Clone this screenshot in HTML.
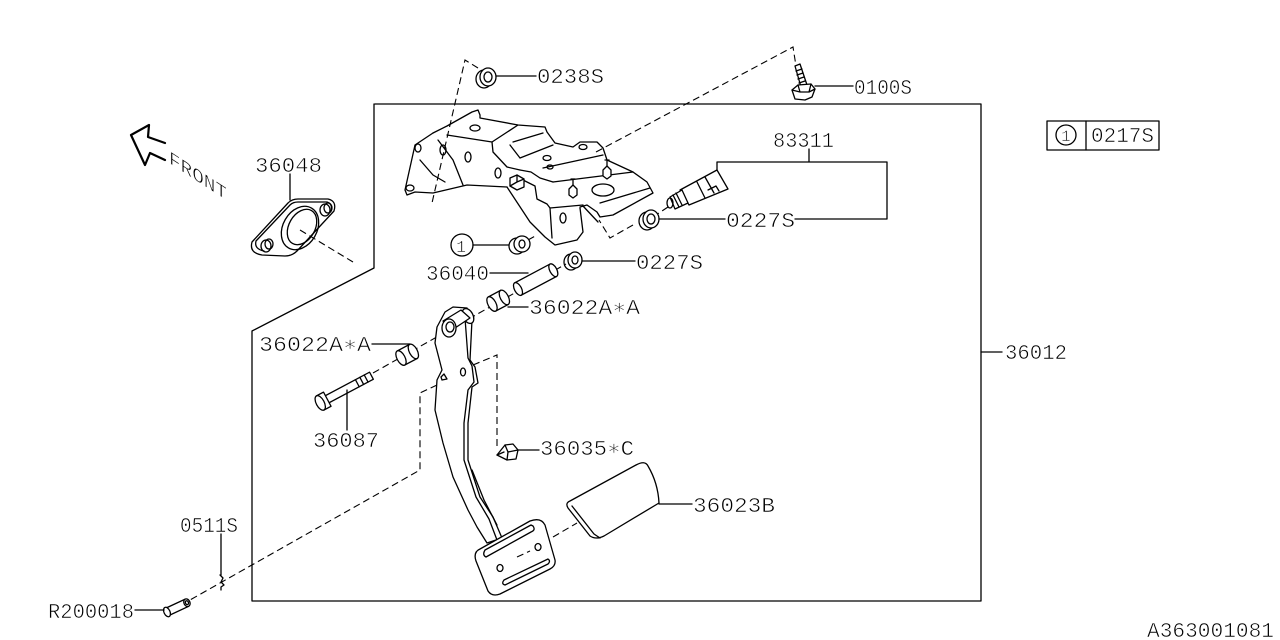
<!DOCTYPE html>
<html><head><meta charset="utf-8"><style>
html,body{margin:0;padding:0;background:#fff;}
svg{display:block;}
text{font-family:"Liberation Mono","DejaVu Sans Mono",monospace;font-size:21px;fill:#000;stroke:#fff;stroke-width:0.6px;}
.s{fill:none;stroke:#000;stroke-width:1.3;stroke-linejoin:round;stroke-linecap:round;}
.w{fill:#fff;stroke:#000;stroke-width:1.3;stroke-linejoin:round;}
.d{fill:none;stroke:#000;stroke-width:1.1;stroke-dasharray:7,4;}
</style></head><body>
<svg width="1280" height="640" viewBox="0 0 1280 640" xmlns="http://www.w3.org/2000/svg">
<!-- main outline -->
<path class="s" d="M375,104 L981,104 L981,601 L252,601 L252,331 L374,268 L374,104"/>
<line class="s" x1="981" y1="352" x2="1002" y2="352"/>
<text x="1005" y="359" textLength="62" lengthAdjust="spacingAndGlyphs">36012</text>

<!-- legend box -->
<rect class="s" x="1047" y="121" width="112" height="29"/>
<line class="s" x1="1086" y1="121" x2="1086" y2="150"/>
<circle class="s" cx="1066" cy="135" r="10"/>
<text x="1061" y="141" style="font-size:16px">1</text>
<text x="1091" y="142" textLength="63" lengthAdjust="spacingAndGlyphs">0217S</text>

<text x="1147" y="637" textLength="127" lengthAdjust="spacingAndGlyphs">A363001081</text>

<!-- FRONT arrow -->
<polyline class="s" style="stroke-width:2.2" points="165,143 148,137 149,125 131,135 145,165 150,153 165,160"/>
<text transform="translate(169,163) skewY(33)" textLength="58" lengthAdjust="spacingAndGlyphs" style="font-size:19px">FRONT</text>

<!-- gasket 36048 -->
<text x="255" y="172" textLength="67" lengthAdjust="spacingAndGlyphs">36048</text>
<line class="s" x1="290" y1="174" x2="290" y2="200"/>
<path class="s" d="M262,255 Q249,253 252,242 L288,203 Q292,199 298,199 L328,199 Q337,201 334,211 L297,251 Q292,256 285,256 Z"/>
<path class="s" d="M264,251 Q254,249 256,241 L290,205 Q293,202 298,202 L327,202 Q333,204 331,211"/>
<ellipse class="s" cx="300" cy="228" rx="17" ry="23" transform="rotate(30 300 228)"/>
<ellipse class="s" cx="302" cy="227" rx="13" ry="19" transform="rotate(30 302 227)"/>
<ellipse class="s" cx="266" cy="246" rx="5" ry="6"/>
<ellipse class="s" cx="269" cy="244" rx="4" ry="5"/>
<ellipse class="s" cx="325" cy="210" rx="5" ry="6"/>
<ellipse class="s" cx="328" cy="208" rx="4" ry="5"/>
<line class="d" x1="300" y1="230" x2="353" y2="262"/>

<!-- nut 0238S -->
<path class="d" d="M478,68 L465,60 L432,203"/>
<g transform="translate(487,77)">
<ellipse class="w" cx="-3" cy="2" rx="8" ry="9"/>
<ellipse class="w" cx="1" cy="0" rx="8" ry="9"/>
<ellipse class="s" cx="1" cy="0" rx="4" ry="5"/>
</g>
<line class="s" x1="496" y1="76" x2="536" y2="76"/>
<text x="537" y="83" textLength="67" lengthAdjust="spacingAndGlyphs">0238S</text>

<!-- bolt 0100S -->
<path class="d" d="M596,152 L793,47 L796,66"/>
<path class="s" d="M795,66 L800,64 L807,85 L801,87 Z"/>
<path class="s" d="M796,71 l6,-2 M797,75 l6,-2 M798,79 l6,-2 M799,83 l6,-2"/>
<path class="w" d="M792,90 L798,85 L811,84 L815,89 L812,97 L805,100 L795,99 Z"/>
<path class="s" d="M798,85 L800,92 M811,84 L809,92 M792,90 L800,92 L809,92 L815,89"/>
<line class="s" x1="815" y1="86" x2="853" y2="86"/>
<text x="854" y="94" textLength="58" lengthAdjust="spacingAndGlyphs">0100S</text>

<!-- bracket -->
<g class="s">
<path d="M433,133 L415,145 L405,190 L407,195 L415,192 L433,193 L467,185 L507,187"/>
<path d="M433,133 L447,126 L472,112 L478,110 L480,115 L480,118 L518,125 L545,127 L547,132 L555,143 L573,147 L580,142 L597,142 L603,148 L607,160 L633,172 L647,182 L653,193 L613,215 L600,217 L597,212 L587,205 L580,207"/>
<path d="M447,135 L492,142 L518,125"/>
<path d="M492,142 L493,152 L507,167 L520,170"/>
<path d="M513,142 L543,133 M520,158 L553,145 M510,145 L520,158"/>
<path d="M507,187 L530,222 L545,237 L555,245 L577,240 L583,232 L580,208"/>
<path d="M550,208 L583,205 M550,208 L552,238"/>
<path d="M520,170 L531,172 L540,178 L553,182 M523,180 L535,186 L537,199 L547,204 L550,208"/>
<path d="M543,168 L603,155 M553,182 L633,172 M600,203 L650,188 M583,206 L598,222"/>
<path d="M420,160 L433,175 L445,182 M438,140 L453,160 L463,185"/>
<polygon class="w" points="510,178 517,175 524,179 524,187 517,190 510,186"/>
<path d="M517,175 L517,182 L524,179 M510,186 L517,182"/>
<ellipse cx="418" cy="148" rx="3" ry="4"/>
<ellipse cx="410" cy="188" rx="4" ry="3"/>
<ellipse cx="443" cy="150" rx="3" ry="5"/>
<ellipse cx="468" cy="157" rx="3" ry="5"/>
<ellipse cx="475" cy="128" rx="5" ry="3"/>
<ellipse cx="498" cy="173" rx="3" ry="5"/>
<ellipse cx="547" cy="158" rx="4" ry="2.5"/>
<ellipse cx="550" cy="167" rx="3" ry="2"/>
<ellipse cx="583" cy="147" rx="4" ry="2.5"/>
<ellipse cx="603" cy="190" rx="11" ry="6"/>
<ellipse cx="563" cy="218" rx="3" ry="5"/>
<path class="w" d="M569,189 l4,-4 l4,4 l0,6 l-4,3 l-4,-3 Z"/>
<path d="M573,185 l0,-6 M571,179 l4,0"/>
<path class="w" d="M603,170 l4,-4 l4,4 l0,6 l-4,3 l-4,-3 Z"/>
<path d="M607,166 l0,-6 M605,160 l4,0"/>
</g>
<path class="d" d="M633,225 L610,238 L599,220"/>

<!-- sensor 83311 -->
<g class="s">
<polygon class="w" points="680,190 717,170 728,189 689,205"/>
<path d="M697,182 L705,198 M705,177 L714,193 M708,190 L716,186 L719,191"/>
<polygon class="w" points="670,197 682,190 688,203 675,209"/>
<path d="M673,195 L679,207 M676,193 L682,205"/>
<ellipse cx="670" cy="203" rx="3" ry="5"/>
</g>
<line class="d" x1="668" y1="207" x2="656" y2="215"/>
<g transform="translate(650,219)">
<ellipse class="w" cx="-3" cy="2" rx="8" ry="9"/>
<ellipse class="w" cx="1" cy="0" rx="8" ry="9"/>
<ellipse class="s" cx="1" cy="0" rx="4" ry="5"/>
</g>
<line class="s" x1="659" y1="219" x2="725" y2="219"/>
<text x="726" y="227" textLength="69" lengthAdjust="spacingAndGlyphs">0227S</text>
<path class="s" d="M795,219 L887,219 L887,162 L717,162 L717,170 M809,149 L809,162"/>
<text x="773" y="147" textLength="61" lengthAdjust="spacingAndGlyphs">83311</text>

<!-- nut (1) -->
<circle class="s" cx="462" cy="245" r="11"/>
<text x="456" y="252" style="font-size:17px">1</text>
<line class="s" x1="473" y1="245" x2="512" y2="245"/>
<line class="d" x1="528" y1="240" x2="537" y2="235"/>
<g transform="translate(521,244)">
<ellipse class="w" cx="-4" cy="2" rx="8" ry="8"/>
<ellipse class="w" cx="1" cy="0" rx="8" ry="8"/>
<ellipse class="s" cx="1" cy="0" rx="3" ry="4"/>
</g>

<!-- nut 0227S second -->
<g transform="translate(574,260)">
<ellipse class="w" cx="-3" cy="2" rx="7" ry="8"/>
<ellipse class="w" cx="1" cy="0" rx="7" ry="8"/>
<ellipse class="s" cx="1" cy="0" rx="3" ry="4"/>
</g>
<line class="s" x1="582" y1="261" x2="635" y2="261"/>
<text x="636" y="269" textLength="67" lengthAdjust="spacingAndGlyphs">0227S</text>

<!-- pivot axis dashed -->
<line class="d" x1="373" y1="373" x2="566" y2="264"/>

<!-- pin 36040 -->
<g transform="translate(518,289) rotate(-28)">
<rect class="w" x="0" y="-7" width="40" height="14"/>
<ellipse class="w" cx="40" cy="0" rx="3.5" ry="7"/>
<ellipse class="w" cx="0" cy="0" rx="3.5" ry="7"/>
</g>
<line class="s" x1="490" y1="273" x2="528" y2="273"/>
<text x="426" y="280" textLength="63" lengthAdjust="spacingAndGlyphs">36040</text>

<!-- bushing right -->
<g transform="translate(492,304) rotate(-28)">
<rect class="w" x="0" y="-8" width="14" height="16"/>
<ellipse class="w" cx="14" cy="0" rx="4" ry="8"/>
<ellipse class="w" cx="0" cy="0" rx="4" ry="8"/>
</g>
<line class="s" x1="508" y1="307" x2="528" y2="307"/>
<text x="529" y="314" textLength="111" lengthAdjust="spacingAndGlyphs">36022A∗A</text>

<!-- bushing left -->
<g transform="translate(401,358) rotate(-28)">
<rect class="w" x="0" y="-8" width="14" height="16"/>
<ellipse class="w" cx="14" cy="0" rx="4" ry="8"/>
<ellipse class="w" cx="0" cy="0" rx="4" ry="8"/>
</g>
<line class="s" x1="372" y1="344" x2="410" y2="344"/>
<text x="259" y="351" textLength="112" lengthAdjust="spacingAndGlyphs">36022A∗A</text>

<!-- bolt 36087 -->
<g transform="translate(322,402) rotate(-28)">
<rect class="w" x="0" y="-4" width="56" height="8"/>
<path class="s" d="M40,-4 l0,8 M45,-4 l0,8 M50,-4 l0,8"/>
<rect class="w" x="-2" y="-8" width="8" height="16"/>
<ellipse class="w" cx="-2" cy="0" rx="4" ry="8"/>
</g>
<line class="s" x1="347" y1="390" x2="347" y2="430"/>
<text x="313" y="447" textLength="66" lengthAdjust="spacingAndGlyphs">36087</text>

<!-- dashed frames around arm -->
<path class="d" d="M473,365 L497,355 L497,447"/>
<path class="d" d="M437,385 L420,393 L420,470 L190,600"/>

<!-- pedal arm -->
<g class="s">
<path class="w" d="M445,312 L437,327 L435,343 L442,370 L437,380 L435,410 L443,443 L453,477 L468,510 L477,527 L487,543 L502,538 L493,517 L480,497 L468,460 L468,423 L472,387 L478,383 L475,367 L470,360 L472,320 L467,308 L453,307 Z"/>
<path d="M465,318 L468,358 L472,366 L474,382 L468,390 L464,423 L464,460 L476,497 L489,519 L497,540"/>
<path d="M472,470 L484,500 L497,525"/>
<ellipse cx="463" cy="372" rx="2.5" ry="4"/>
<path d="M441,377 l3,-3 l3,5 l-5,1 Z"/>
<ellipse class="w" cx="468" cy="316" rx="5" ry="8" transform="rotate(-28 468 316)"/>
<path class="w" d="M443,321 L461,310 L470,318 L452,330 Z"/>
<ellipse class="w" cx="449" cy="328" rx="7" ry="9"/>
<ellipse cx="450" cy="327" rx="4" ry="5"/>
</g>

<!-- clip 36035*C -->
<g class="s">
<path class="w" d="M497,455 L505,445 L513,444 L518,450 L516,459 L507,460 Z"/>
<path d="M505,445 L508,452 L507,460 M508,452 L518,450 M497,455 L504,452"/>
</g>
<line class="s" x1="518" y1="450" x2="539" y2="450"/>
<text x="540" y="455" textLength="94" lengthAdjust="spacingAndGlyphs">36035∗C</text>

<!-- pedal pad -->
<g class="s">
<path class="w" d="M480,549 L530,521 Q541,517 545,525 L555,560 Q556,566 550,569 L500,594 Q492,597 488,591 L476,561 Q473,552 480,549 Z"/>
<path d="M486,557 L531,532 Q536,530 533,526 L531,525 L485,550 Q482,555 486,557 Z"/>
<path d="M505,585 L548,564 Q551,561 548,559 L504,580 Q501,584 505,585 Z"/>
<ellipse cx="500" cy="568" rx="3" ry="3.5"/>
<ellipse cx="538" cy="547" rx="3" ry="3.5"/>
</g>
<path class="d" d="M517,557 L530,551 M553,537 L577,523"/>

<!-- pad cover 36023B -->
<g class="s">
<path class="w" d="M570,501 L636,465 Q645,460 648,466 Q658,483 659,503 L604,536 Q596,540 590,536 L568,508 Q565,503 570,501 Z"/>
<path d="M572,506 L594,534 L600,538"/>
</g>
<line class="s" x1="659" y1="504" x2="692" y2="504"/>
<text x="693" y="512" textLength="82" lengthAdjust="spacingAndGlyphs">36023B</text>

<!-- clip 0511S -->
<text x="180" y="532" textLength="58" lengthAdjust="spacingAndGlyphs">0511S</text>
<line class="s" x1="221" y1="534" x2="221" y2="575"/>
<path class="s" d="M220,575 l3,3 l-2,4 l3,3 l-3,2 l0,3"/>

<!-- pin R200018 -->
<g transform="translate(167,612) rotate(-25)">
<rect class="w" x="0" y="-4" width="22" height="8"/>
<ellipse class="w" cx="22" cy="0" rx="3" ry="4"/>
<ellipse class="w" cx="22" cy="0" rx="1.5" ry="2"/>
<ellipse class="w" cx="0" cy="0" rx="3" ry="5"/>
</g>
<line class="s" x1="135" y1="610" x2="164" y2="610"/>
<text x="48" y="618" textLength="86" lengthAdjust="spacingAndGlyphs">R200018</text>
</svg>
</body></html>
